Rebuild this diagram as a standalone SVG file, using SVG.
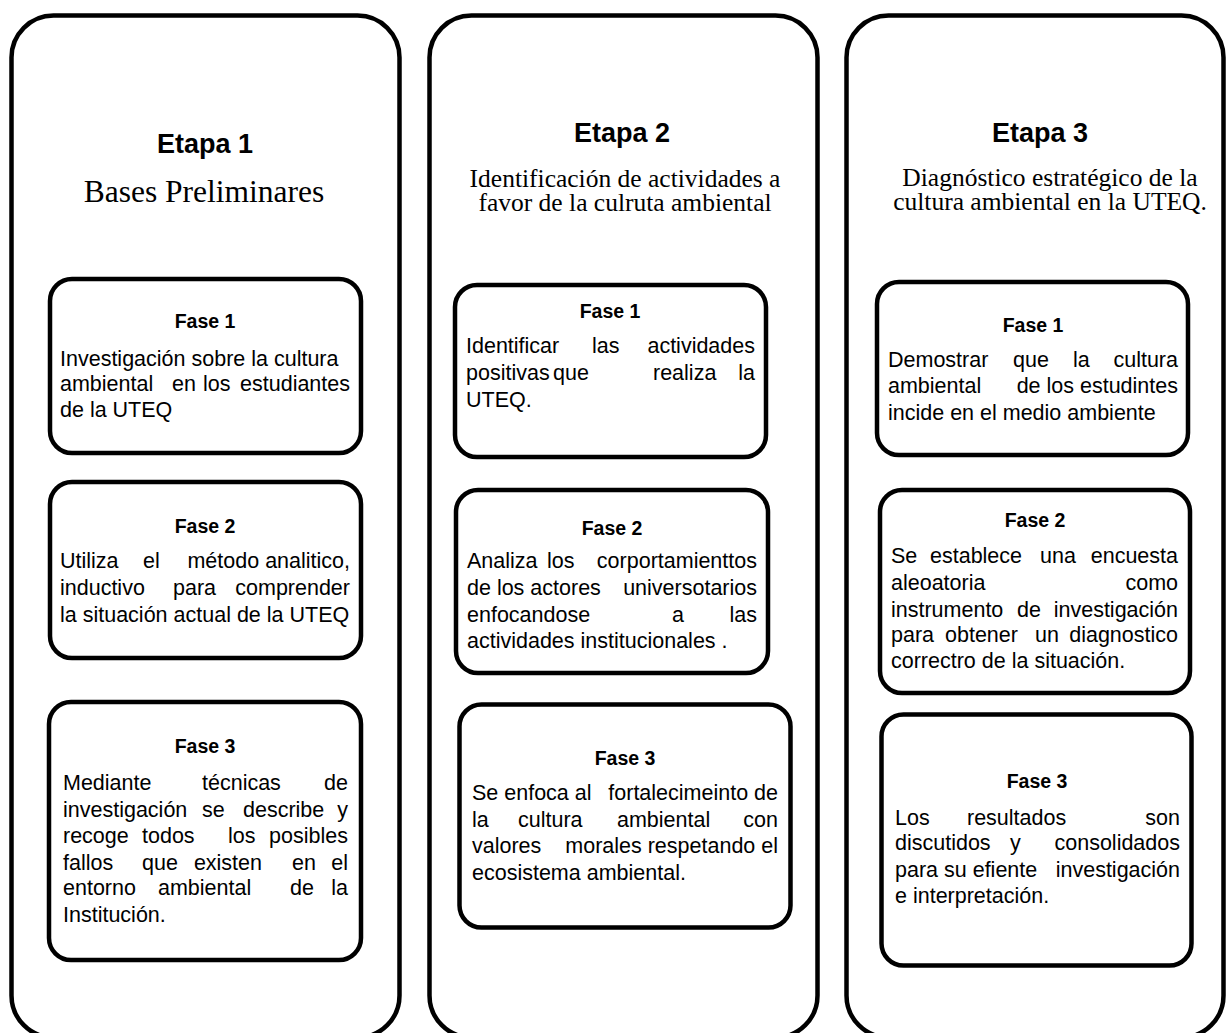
<svg xmlns="http://www.w3.org/2000/svg" width="1227" height="1033" viewBox="0 0 1227 1033">
<style>
.col{fill:#fff;stroke:#000;stroke-width:4.5}
.box{fill:#fff;stroke:#000;stroke-width:4.5}
.et{font-family:"Liberation Sans",Arial,sans-serif;font-weight:bold;font-size:27px;text-anchor:middle;fill:#000}
.sub{font-family:"Liberation Serif","Times New Roman",serif;font-size:25.5px;text-anchor:middle;fill:#000}
.fa{font-family:"Liberation Sans",Arial,sans-serif;font-weight:bold;font-size:19.5px;text-anchor:middle;fill:#000}
.tx{font-family:"Liberation Sans",Arial,sans-serif;font-size:21.5px;fill:#000}
.e{text-anchor:end}
</style>
<rect width="1227" height="1033" fill="#fff"/>

<g id="etapa1">
<rect class="col" x="11.5" y="15.5" width="388" height="1022" rx="42"/>
<text class="et" x="205" y="153">Etapa 1</text>
<text class="sub" x="204" y="202" style="font-size:31.5px">Bases Preliminares</text>
</g>
<g id="etapa2">
<rect class="col" x="429.5" y="15.5" width="388" height="1022" rx="42"/>
<text class="et" x="622" y="142">Etapa 2</text>
<text class="sub" x="625" y="187">Identificación  de actividades a</text>
<text class="sub" x="625" y="211">favor de la  culruta ambiental</text>
</g>
<g id="etapa3">
<rect class="col" x="846.5" y="15.5" width="377" height="1022" rx="42"/>
<text class="et" x="1040" y="142">Etapa 3</text>
<text class="sub" x="1050" y="186">Diagnóstico estratégico de la</text>
<text class="sub" x="1050" y="210">cultura ambiental en la UTEQ.</text>
</g>

<g id="e1-fase1">
<rect class="box" x="50" y="279" width="311" height="174" rx="22"/>
<text class="fa" x="205" y="328">Fase 1</text>
<text class="tx" y="366"><tspan x="60">Investigación sobre la cultura</tspan></text>
<text class="tx" y="391"><tspan x="60">ambiental</tspan><tspan x="172">en</tspan><tspan x="203">los</tspan><tspan x="350" class="e">estudiantes</tspan></text>
<text class="tx" y="417"><tspan x="60">de la UTEQ</tspan></text>
</g>
<g id="e1-fase2">
<rect class="box" x="50" y="482" width="311" height="176" rx="22"/>
<text class="fa" x="205" y="533">Fase 2</text>
<text class="tx" y="568"><tspan x="60">Utiliza</tspan><tspan x="143">el</tspan><tspan x="350" class="e">método analitico,</tspan></text>
<text class="tx" y="595"><tspan x="60">inductivo</tspan><tspan x="173">para</tspan><tspan x="350" class="e">comprender</tspan></text>
<text class="tx" y="622"><tspan x="60">la situación actual de la UTEQ</tspan></text>
</g>
<g id="e1-fase3">
<rect class="box" x="49" y="702" width="312" height="258" rx="22"/>
<text class="fa" x="205" y="753">Fase 3</text>
<text class="tx" y="790"><tspan x="63">Mediante</tspan><tspan x="202">técnicas</tspan><tspan x="348" class="e">de</tspan></text>
<text class="tx" y="817"><tspan x="63">investigación</tspan><tspan x="202">se</tspan><tspan x="243">describe</tspan><tspan x="348" class="e">y</tspan></text>
<text class="tx" y="843"><tspan x="63">recoge</tspan><tspan x="142">todos</tspan><tspan x="228">los</tspan><tspan x="348" class="e">posibles</tspan></text>
<text class="tx" y="870"><tspan x="63">fallos</tspan><tspan x="142">que</tspan><tspan x="262" class="e">existen</tspan><tspan x="292">en</tspan><tspan x="348" class="e">el</tspan></text>
<text class="tx" y="895"><tspan x="63">entorno</tspan><tspan x="158">ambiental</tspan><tspan x="290">de</tspan><tspan x="348" class="e">la</tspan></text>
<text class="tx" y="922"><tspan x="63">Institución.</tspan></text>
</g>

<g id="e2-fase1">
<rect class="box" x="455" y="285" width="311" height="172" rx="22"/>
<text class="fa" x="610" y="318">Fase 1</text>
<text class="tx" y="353"><tspan x="466">Identificar</tspan><tspan x="592">las</tspan><tspan x="755" class="e">actividades</tspan></text>
<text class="tx" y="380"><tspan x="466">positivas</tspan><tspan x="553">que</tspan><tspan x="653">realiza</tspan><tspan x="755" class="e">la</tspan></text>
<text class="tx" y="407"><tspan x="466">UTEQ.</tspan></text>
</g>
<g id="e2-fase2">
<rect class="box" x="456" y="490" width="312" height="183" rx="22"/>
<text class="fa" x="612" y="535">Fase 2</text>
<text class="tx" y="568"><tspan x="467">Analiza</tspan><tspan x="547">los</tspan><tspan x="757" class="e">corportamienttos</tspan></text>
<text class="tx" y="595"><tspan x="467">de los actores</tspan><tspan x="757" class="e">universotarios</tspan></text>
<text class="tx" y="622"><tspan x="467">enfocandose</tspan><tspan x="672">a</tspan><tspan x="757" class="e">las</tspan></text>
<text class="tx" y="648"><tspan x="467">actividades institucionales .</tspan></text>
</g>
<g id="e2-fase3">
<rect class="box" x="459.5" y="704.5" width="331" height="223" rx="22"/>
<text class="fa" x="625" y="765">Fase 3</text>
<text class="tx" y="800"><tspan x="472">Se enfoca al</tspan><tspan x="778" class="e">fortalecimeinto de</tspan></text>
<text class="tx" y="827"><tspan x="472">la</tspan><tspan x="518">cultura</tspan><tspan x="617">ambiental</tspan><tspan x="778" class="e">con</tspan></text>
<text class="tx" y="853"><tspan x="472">valores</tspan><tspan x="778" class="e">morales respetando el</tspan></text>
<text class="tx" y="880"><tspan x="472">ecosistema ambiental.</tspan></text>
</g>

<g id="e3-fase1">
<rect class="box" x="877" y="282" width="311" height="173" rx="22"/>
<text class="fa" x="1033" y="332">Fase 1</text>
<text class="tx" y="367"><tspan x="888">Demostrar</tspan><tspan x="1013">que</tspan><tspan x="1073">la</tspan><tspan x="1178" class="e">cultura</tspan></text>
<text class="tx" y="393"><tspan x="888">ambiental</tspan><tspan x="1178" class="e">de los estudintes</tspan></text>
<text class="tx" y="420"><tspan x="888">incide en el medio ambiente</tspan></text>
</g>
<g id="e3-fase2">
<rect class="box" x="880" y="490" width="310" height="203" rx="22"/>
<text class="fa" x="1035" y="527">Fase 2</text>
<text class="tx" y="563"><tspan x="891">Se</tspan><tspan x="930">establece</tspan><tspan x="1040">una</tspan><tspan x="1178" class="e">encuesta</tspan></text>
<text class="tx" y="590"><tspan x="891">aleoatoria</tspan><tspan x="1178" class="e">como</tspan></text>
<text class="tx" y="617"><tspan x="891">instrumento</tspan><tspan x="1017">de</tspan><tspan x="1178" class="e">investigación</tspan></text>
<text class="tx" y="642"><tspan x="891">para</tspan><tspan x="945">obtener</tspan><tspan x="1035">un</tspan><tspan x="1178" class="e">diagnostico</tspan></text>
<text class="tx" y="668"><tspan x="891">correctro de la situación.</tspan></text>
</g>
<g id="e3-fase3">
<rect class="box" x="881.5" y="714.5" width="310" height="251" rx="22"/>
<text class="fa" x="1037" y="788">Fase 3</text>
<text class="tx" y="825"><tspan x="895">Los</tspan><tspan x="967">resultados</tspan><tspan x="1180" class="e">son</tspan></text>
<text class="tx" y="850"><tspan x="895">discutidos</tspan><tspan x="1010">y</tspan><tspan x="1180" class="e">consolidados</tspan></text>
<text class="tx" y="877"><tspan x="895">para su efiente</tspan><tspan x="1180" class="e">investigación</tspan></text>
<text class="tx" y="903"><tspan x="895">e interpretación.</tspan></text>
</g>

<g id="connectors"></g>
</svg>
